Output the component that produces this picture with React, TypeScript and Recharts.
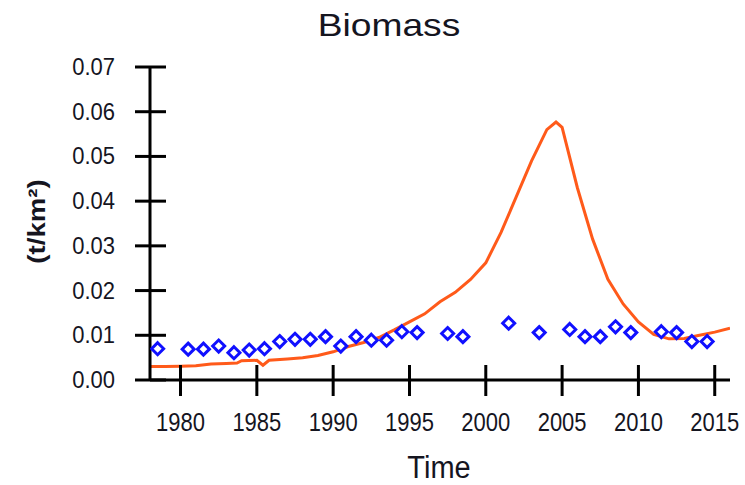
import { ComposedChart, Line, Scatter, XAxis, YAxis } from 'recharts';

const lineYears = [
  1978, 1979, 1980, 1981, 1982, 1983, 1983.7, 1984, 1985, 1985.4, 1985.8, 1987, 1988, 1989,
  1990, 1991, 1992, 1993, 1994, 1995, 1996, 1997, 1998, 1999, 2000, 2001, 2002, 2003,
  2004, 2004.6, 2005, 2006, 2007, 2008, 2009, 2010, 2011, 2012, 2013, 2014, 2015, 2016
];
const lineBiomass = [
  0.003, 0.003, 0.0031, 0.0032, 0.0036, 0.0037, 0.0038, 0.0043, 0.0044, 0.0033, 0.0044, 0.0047, 0.005, 0.0055,
  0.0063, 0.0075, 0.0084, 0.0095, 0.0112, 0.013, 0.0148, 0.0175, 0.0196, 0.0225, 0.0262, 0.033, 0.041, 0.049,
  0.056, 0.0577, 0.0565, 0.043, 0.0315, 0.0225, 0.017, 0.013, 0.0102, 0.0092, 0.0093, 0.01, 0.0107, 0.0116
];

const obsYears = [
  1978.5, 1980.5, 1981.5, 1982.5, 1983.5, 1984.5, 1985.5, 1986.5, 1987.5, 1988.5, 1989.5,
  1990.5, 1991.5, 1992.5, 1993.5, 1994.5, 1995.5, 1997.5, 1998.5, 2001.5, 2003.5, 2005.5,
  2006.5, 2007.5, 2008.5, 2009.5, 2011.5, 2012.5, 2013.5, 2014.5
];
const obsBiomass = [
  0.007, 0.0069, 0.0069, 0.0076, 0.0061, 0.0067, 0.007, 0.0086, 0.0091, 0.0091, 0.0097,
  0.0076, 0.0097, 0.0089, 0.0089, 0.0108, 0.0106, 0.0104, 0.0097, 0.0127, 0.0106, 0.0113,
  0.0097, 0.0097, 0.0119, 0.0106, 0.0108, 0.0106, 0.0086, 0.0086
];

const xTicks = [1980, 1985, 1990, 1995, 2000, 2005, 2010, 2015];
const yTicks = [0, 0.01, 0.02, 0.03, 0.04, 0.05, 0.06, 0.07];

const lineData = lineYears.map((year, i) => ({ year, biomass: lineBiomass[i] }));
const obsData = obsYears.map((year, i) => ({ year, observed: obsBiomass[i] }));

const FONT = '"Liberation Sans", Arial, sans-serif';
const TEXT = '#15151f';

function XTick({ x, y, payload }: any) {
  return (
    <g>
      <line x1={x} x2={x} y1={y - 15} y2={y + 16} stroke="#000" strokeWidth={3} />
      <text
        transform={`translate(${x} ${y + 51}) scale(1 1.15)`}
        textAnchor="middle"
        fontFamily={FONT}
        fontSize={22}
        fill={TEXT}
      >
        {payload.value}
      </text>
    </g>
  );
}

function YTick({ x, y, payload }: any) {
  return (
    <g>
      <line x1={x - 15} x2={x + 16} y1={y} y2={y} stroke="#000" strokeWidth={3} />
      <text
        transform={`translate(${x - 35} ${y + 8}) scale(1 1.08)`}
        textAnchor="end"
        fontFamily={FONT}
        fontSize={22}
        fill={TEXT}
      >
        {payload.value.toFixed(2)}
      </text>
    </g>
  );
}

function Diamond({ cx, cy }: any) {
  const r = 6;
  return (
    <polygon
      points={`${cx},${cy - r} ${cx + r},${cy} ${cx},${cy + r} ${cx - r},${cy}`}
      fill="#fff"
      stroke="#1010ff"
      strokeWidth={3}
    />
  );
}

function YLabel({ viewBox }: any) {
  const cx = viewBox.x + 37;
  const cy = viewBox.y + viewBox.height / 2 - 2;
  return (
    <text
      transform={`translate(${cx} ${cy}) rotate(-90) scale(1.15 1)`}
      textAnchor="middle"
      dominantBaseline="central"
      fontFamily={FONT}
      fontWeight="bold"
      fontSize={24}
      fill={TEXT}
    >
      (t/km²)
    </text>
  );
}

function XLabel({ viewBox }: any) {
  return (
    <text
      transform={`translate(${viewBox.x + viewBox.width / 2 - 1} ${viewBox.y + 98}) scale(1 1.05)`}
      textAnchor="middle"
      fontFamily={FONT}
      fontSize={29}
      fill={TEXT}
    >
      Time
    </text>
  );
}

export default function App() {
  return (
    <div style={{ width: 745, height: 485, background: '#fff' }}>
      <style>{'body{margin:0}'}</style>
      <ComposedChart width={745} height={485} margin={{ top: 67, right: 15, bottom: 0, left: 0 }}>
        <text
          transform="translate(389 36) scale(1.2 1)"
          textAnchor="middle"
          fontFamily={FONT}
          fontSize={31}
          fill={TEXT}
        >
          Biomass
        </text>
        <XAxis
          dataKey="year"
          type="number"
          domain={[1978, 2016]}
          ticks={xTicks}
          allowDataOverflow
          height={105}
          stroke="#000"
          strokeWidth={3}
          tickLine={false}
          tickSize={0}
          tickMargin={0}
          tick={<XTick />}
          label={{ content: <XLabel /> }}
        />
        <YAxis
          type="number"
          domain={[0, 0.07]}
          ticks={yTicks}
          width={150}
          stroke="#000"
          strokeWidth={3}
          tickLine={false}
          tickSize={0}
          tickMargin={0}
          tick={<YTick />}
          label={{ content: <YLabel /> }}
        />
        <Line
          data={lineData}
          dataKey="biomass"
          type="linear"
          stroke="#ff5a1a"
          strokeWidth={3}
          dot={false}
          activeDot={false}
          isAnimationActive={false}
        />
        <Scatter
          data={obsData}
          dataKey="observed"
          shape={<Diamond />}
          isAnimationActive={false}
        />
      </ComposedChart>
    </div>
  );
}
